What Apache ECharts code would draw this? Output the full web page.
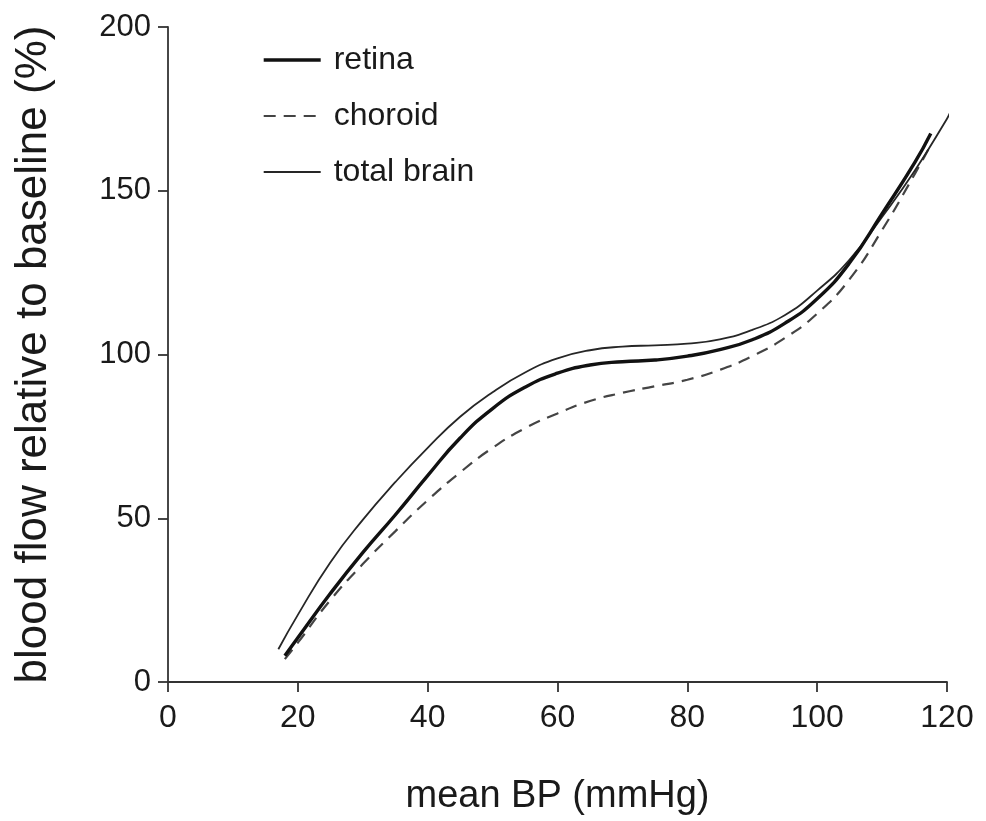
<!DOCTYPE html>
<html>
<head>
<meta charset="utf-8">
<script src="https://cdn.jsdelivr.net/npm/echarts@6/dist/echarts.min.js"></script>
<style>
html,body{margin:0;padding:0;background:#fff;}
#chart{width:986px;height:821px;}
</style>
</head>
<body>
<div id="chart"></div>
<script>
// x: mean BP (mmHg), y: blood flow relative to baseline (%)
const retinaX = [18, 20, 25, 30, 35, 40, 45, 50, 55, 60, 65, 70, 75, 80, 85, 90, 95, 100, 105, 110, 115, 117.5];
const retinaY = [8, 13.5, 27, 39.5, 51, 63, 74.5, 83.5, 90, 94.3, 96.8, 97.8, 98.3, 99.5, 101.5, 104.5, 109.5, 117, 128, 143, 158.5, 167.5];

const choroidX = [18, 20, 25, 30, 35, 40, 45, 50, 55, 60, 65, 70, 75, 80, 85, 90, 95, 100, 105, 110, 115, 117.5];
const choroidY = [7, 12, 25, 36, 46, 55.5, 64, 71.5, 77.5, 82, 85.8, 88.3, 90.3, 92.3, 95.3, 99.5, 105, 112.5, 123, 138, 155, 164];

const brainX = [17, 20, 25, 30, 35, 40, 45, 50, 55, 60, 65, 70, 75, 80, 85, 90, 95, 100, 105, 110, 115, 120, 120.5];
const brainY = [10, 20.5, 36.5, 49.5, 61, 71.5, 81, 88.5, 94.5, 98.8, 101.3, 102.4, 102.8, 103.3, 104.6, 107.5, 112, 119.5, 129, 142, 156, 172, 174];

const xTicks = [0, 20, 40, 60, 80, 100, 120];
const yTicks = [0, 50, 100, 150, 200];
const seriesNames = ['retina', 'choroid', 'total brain'];

const pairs = (xs, ys) => xs.map((x, i) => [x, ys[i]]);
const FONT = '"Liberation Sans", Arial, Helvetica, sans-serif';

const styles = [
  {color: '#111', width: 3.4, type: 'solid'},
  {color: '#444', width: 2.2, type: [12, 8]},
  {color: '#262626', width: 1.8, type: 'solid'}
];

const chart = echarts.init(document.getElementById('chart'), null, {renderer: 'canvas'});
chart.setOption({
  animation: false,
  backgroundColor: '#ffffff',
  grid: {left: 168, right: 39, top: 27, bottom: 137, containLabel: false},
  legend: {
    orient: 'vertical',
    left: 257,
    top: 39,
    itemWidth: 57,
    itemHeight: 20,
    itemGap: 24,
    data: seriesNames.map((n, i) => ({name: n, lineStyle: {color: styles[i].color, width: styles[i].width, type: styles[i].type}})),
    itemStyle: {opacity: 0},
    textStyle: {fontFamily: FONT, fontSize: 32, color: '#1a1a1a', lineHeight: 32, padding: [0, 0, 0, 8]},
    selectedMode: false
  },
  xAxis: {
    type: 'value',
    min: xTicks[0],
    max: xTicks[xTicks.length - 1],
    interval: 20,
    name: 'mean BP (mmHg)',
    nameLocation: 'middle',
    nameGap: 96,
    nameTextStyle: {fontFamily: FONT, fontSize: 38, color: '#1a1a1a'},
    axisLine: {show: true, onZero: false, lineStyle: {color: '#333', width: 1.8}},
    axisTick: {show: true, length: 10, lineStyle: {color: '#333', width: 1.8}},
    axisLabel: {fontFamily: FONT, fontSize: 32, color: '#1a1a1a', margin: 20},
    splitLine: {show: false}
  },
  yAxis: {
    type: 'value',
    min: yTicks[0],
    max: yTicks[yTicks.length - 1],
    interval: 50,
    name: 'blood flow relative to baseline (%)',
    nameLocation: 'middle',
    nameGap: 112,
    nameRotate: 90,
    nameTextStyle: {fontFamily: FONT, fontSize: 44, color: '#1a1a1a'},
    axisLine: {show: true, onZero: false, lineStyle: {color: '#333', width: 1.8}},
    axisTick: {show: true, length: 10, lineStyle: {color: '#333', width: 1.8}},
    axisLabel: {fontFamily: FONT, fontSize: 31, color: '#1a1a1a', margin: 17},
    splitLine: {show: false}
  },
  series: seriesNames.map((n, i) => ({
    name: n,
    type: 'line',
    data: [pairs(retinaX, retinaY), pairs(choroidX, choroidY), pairs(brainX, brainY)][i],
    smooth: 0.5,
    symbol: 'none',
    showSymbol: false,
    lineStyle: {color: styles[i].color, width: styles[i].width, type: styles[i].type},
    itemStyle: {color: styles[i].color},
    z: i === 0 ? 3 : 2
  }))
});
</script>
</body>
</html>
